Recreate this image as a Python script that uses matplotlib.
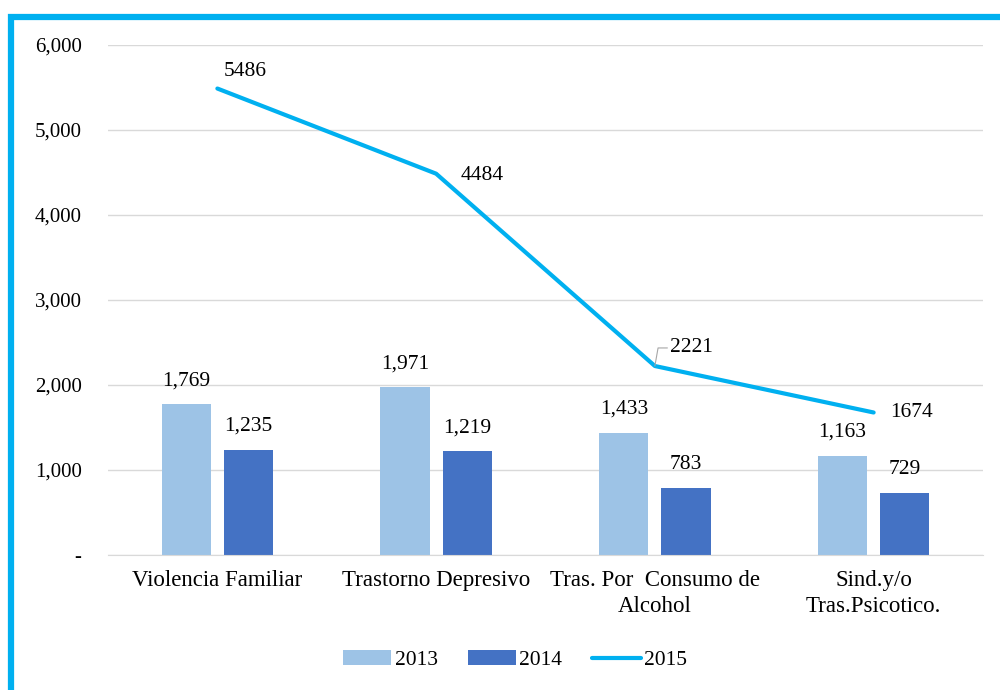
import matplotlib.pyplot as plt
import numpy as np
from matplotlib.patches import Rectangle
from matplotlib.ticker import FuncFormatter

plt.rcParams["font.family"] = ["Liberation Serif", "DejaVu Serif"]

categories = ["Violencia Familiar", "Trastorno Depresivo", "Tras. Por  Consumo de\nAlcohol", "Sind.y/o\nTras.Psicotico."]
values_2013 = [1769, 1971, 1433, 1163]
values_2014 = [1235, 1219, 783, 729]
values_2015 = [5486, 4484, 2221, 1674]

# offsets (points) for the 2015 labels
line_offsets = [(20, 12), (33, -1), (26, 13), (27, 0)]

c13 = "#9dc3e6"
c14 = "#4472c4"
c15 = "#00b0f0"

fig = plt.figure(figsize=(10, 6.9), dpi=100)
ax = fig.add_axes([0.108, 0.196, 0.875, 0.739])

x = np.arange(len(categories))
w = 0.225
b13 = ax.bar(x - 0.142, values_2013, w, color=c13, label="2013", zorder=2)
b14 = ax.bar(x + 0.142, values_2014, w, color=c14, label="2014", zorder=2)
ln, = ax.plot(x, values_2015, color=c15, lw=3, solid_capstyle="round", label="2015", zorder=3)

for bars in (b13, b14):
    for r in bars:
        ax.annotate(f"{int(r.get_height()):,}", (r.get_x() + r.get_width() / 2, r.get_height()),
                    xytext=(0, 17), textcoords="offset points", ha="center", va="center", fontsize=15.5)

for i, v in enumerate(values_2015):
    ax.annotate(str(v), (x[i], v), xytext=line_offsets[i], textcoords="offset points",
                ha="center", va="center", fontsize=15.5)

# leader line for 2221
ax.annotate("", (x[2], values_2015[2]), xytext=(9, 13), textcoords="offset points",
            arrowprops=dict(arrowstyle="-", color="#a6a6a6", lw=0.8,
                            connectionstyle="angle,angleA=0,angleB=80,rad=0", shrinkA=0, shrinkB=0))

ax.set_xlim(-0.5, 3.5)
ax.set_ylim(0, 6000)
ax.set_yticks(range(0, 6001, 1000))
ax.yaxis.set_major_formatter(FuncFormatter(lambda v, p: "-" if v == 0 else f"{int(v):,}"))
ax.set_xticks(x)
ax.set_xticklabels(categories, linespacing=1.3)
ax.tick_params(axis="both", length=0)
ax.tick_params(axis="x", pad=11, labelsize=16.5)
ax.tick_params(axis="y", pad=19, labelsize=15)
ax.grid(axis="y", color="#d9d9d9", lw=1, zorder=0)
for s in ("top", "right", "left"):
    ax.spines[s].set_visible(False)
ax.spines["bottom"].set_color("#d9d9d9")

fig.legend(handles=[b13, b14, ln], loc="center", bbox_to_anchor=(0.515, 0.043), ncol=3,
           frameon=False, fontsize=15.5, handlelength=2.25, handleheight=0.7,
           handletextpad=0.15, columnspacing=1.4)

fig.patches.append(Rectangle((0.011, -0.1), 1.2, 1.1 - 17 / 690, transform=fig.transFigure,
                             fill=False, edgecolor=c15, lw=4.5))

fig.savefig("out.png", dpi=100)
